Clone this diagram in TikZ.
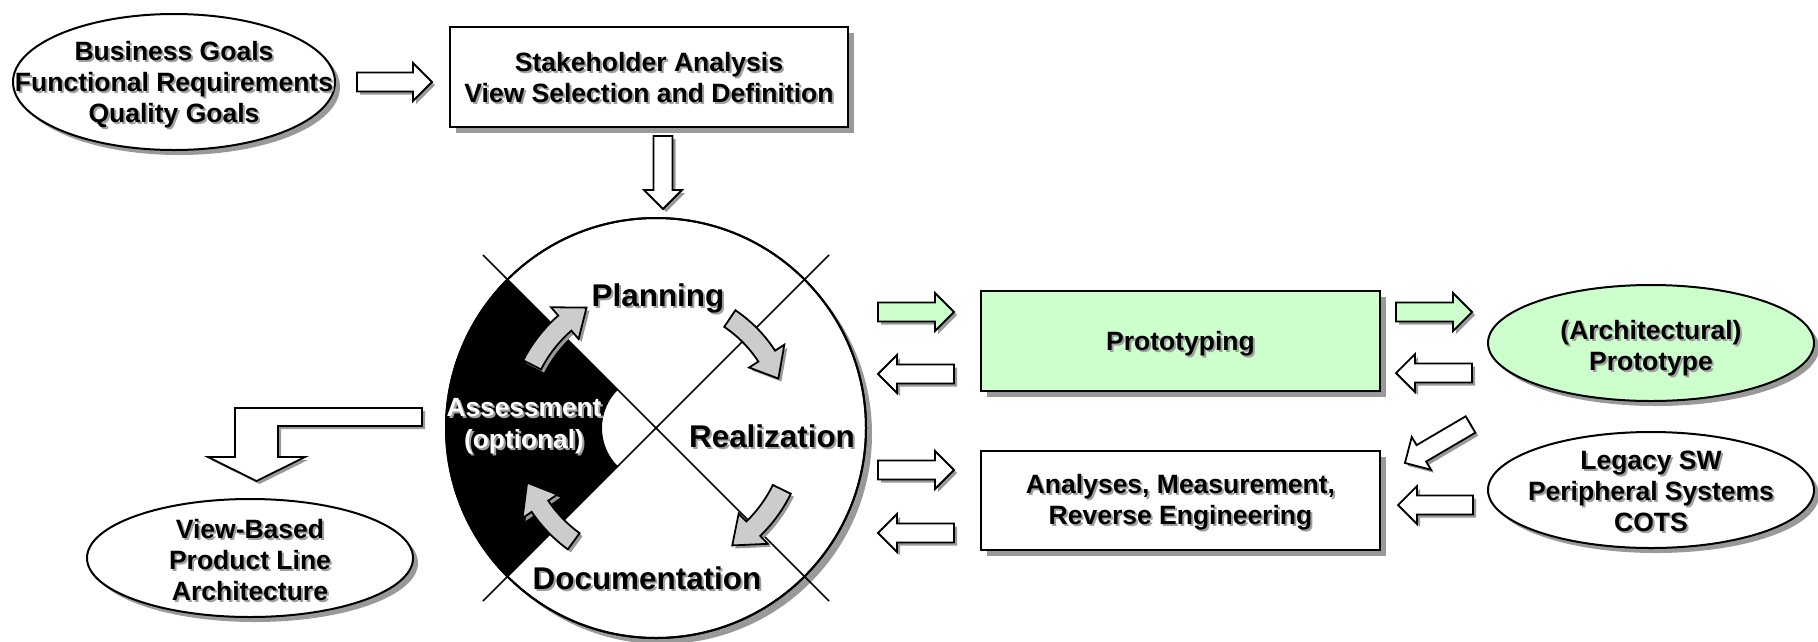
\documentclass[tikz,border=0pt]{standalone}
\usepackage{fontspec}
\setmainfont{Liberation Sans}
\usetikzlibrary{shapes.geometric,shadows}
\definecolor{shadowc}{RGB}{153,153,153}
\definecolor{txtsh}{RGB}{160,160,160}
\definecolor{pgreen}{RGB}{204,255,204}
\definecolor{agray}{RGB}{204,204,204}

\newcommand{\stext}[4]{%
  \node[#3, text=txtsh, xshift=2pt, yshift=-2pt] at (#2) {#4};
  \node[#3] (#1) at (#2) {#4};}

\newcommand{\barrow}[5]{%
  \pgfmathsetmacro{\myhb}{#5-19}%
  \begin{scope}[shift={(#2+3,#3-3)},rotate=#4]
    \fill[shadowc] (0,9.5) -- (\myhb,9.5) -- (\myhb,19) -- (#5,0) -- (\myhb,-19) -- (\myhb,-9.5) -- (0,-9.5) -- cycle;
  \end{scope}
  \begin{scope}[shift={(#2,#3)},rotate=#4]
    \draw[arrowline, fill=#1] (0,9.5) -- (\myhb,9.5) -- (\myhb,19) -- (#5,0) -- (\myhb,-19) -- (\myhb,-9.5) -- (0,-9.5) -- cycle;
  \end{scope}}

\newcommand{\carrow}[3]{%
  \pgfmathsetmacro{\cab}{#2+11}%
  \pgfmathsetmacro{\cro}{#3+10}%
  \pgfmathsetmacro{\cri}{#3-10}%
  \pgfmathsetmacro{\crho}{#3+21}%
  \pgfmathsetmacro{\crhi}{#3-21}%
  \begin{scope}[shift={(cyc.center)},xshift=3pt,yshift=-3pt]
    \fill[shadowc] (#1:\cro) arc[start angle=#1, end angle=\cab, radius=\cro] -- (\cab:\crho) -- (#2:#3) -- (\cab:\crhi) -- (\cab:\cri) arc[start angle=\cab, end angle=#1, radius=\cri] -- cycle;
  \end{scope}
  \begin{scope}[shift={(cyc.center)}]
    \draw[arrowline, fill=agray] (#1:\cro) arc[start angle=#1, end angle=\cab, radius=\cro] -- (\cab:\crho) -- (#2:#3) -- (\cab:\crhi) -- (\cab:\cri) arc[start angle=\cab, end angle=#1, radius=\cri] -- cycle;
  \end{scope}}

\begin{document}
\begin{tikzpicture}[x=1pt,y=1pt,
  lbl/.style={font=\bfseries\fontsize{26.5}{31}\selectfont, align=center, inner sep=0pt},
  biglbl/.style={font=\bfseries\fontsize{31.4}{36}\selectfont, inner sep=0pt},
  arrowline/.style={draw=black, line width=1.8pt, line join=miter},
  rbox/.style={rectangle, draw, line width=2pt, fill=white, inner sep=0pt,
    drop shadow={shadow xshift=6pt, shadow yshift=-6pt, fill=shadowc, opacity=1}},
  ell/.style={ellipse, draw, line width=2pt, fill=white, inner sep=0pt,
    drop shadow={shadow xshift=5pt, shadow yshift=-5pt, fill=shadowc, opacity=1}}]

\useasboundingbox (0,0) rectangle (1818,-641);
\fill[white] (0,0) rectangle (1818,-641);

% shapes
\node[ell, minimum width=322pt, minimum height=136pt] (goals) at (174,-82) {};
\node[rbox, minimum width=398pt, minimum height=100pt] (stake) at (649,-77) {};
\node[circle, draw, line width=2pt, fill=white, inner sep=0pt, minimum size=420pt,
  drop shadow={shadow xshift=6pt, shadow yshift=-6pt, fill=shadowc, opacity=1}] (cyc) at (656,-428) {};
\node[rbox, fill=pgreen, minimum width=399pt, minimum height=100pt] (proto) at (1180.5,-341) {};
\node[rbox, minimum width=399pt, minimum height=99pt] (anal) at (1180.5,-500.5) {};
\node[ell, fill=pgreen, minimum width=326pt, minimum height=116pt] (arch) at (1651,-343) {};
\node[ell, minimum width=326pt, minimum height=116pt] (legacy) at (1651,-490) {};
\node[ell, minimum width=326pt, minimum height=118pt] (vbpla) at (250,-558) {};

% assessment sector and cross
\begin{scope}[shift={(cyc.center)}]
  \fill[black] (135:54) -- (135:210) arc[start angle=135, end angle=225, radius=210]
    -- (225:54) arc[start angle=225, end angle=135, radius=54] -- cycle;
  \coordinate (d1) at (-173,173);
  \coordinate (d2) at (173,-173);
  \coordinate (d3) at (-173,-173);
  \coordinate (d4) at (173,173);
\end{scope}
\draw[line width=1.5pt] (d1) -- (d2);
\draw[line width=1.5pt] (d3) -- (d4);
\draw[line width=2pt] (cyc.center) circle (210);

% straight block arrows
\barrow{white}{357}{-82}{0}{75}
\barrow{white}{663}{-136}{-90}{73}
\barrow{pgreen}{878}{-312}{0}{76}
\barrow{white}{954}{-374}{180}{76}
\barrow{white}{878}{-470}{0}{76}
\barrow{white}{954}{-533}{180}{76}
\barrow{pgreen}{1396}{-312}{0}{76}
\barrow{white}{1472}{-373}{180}{76}
\barrow{white}{1470.5}{-424.5}{210.4}{76}
\barrow{white}{1473}{-505}{180}{75}

% bent arrow
\fill[shadowc, shift={(3,-3)}] (422,-408) -- (235,-408) -- (235,-457) -- (208,-457) -- (256.5,-481)
  -- (305,-457) -- (278,-457) -- (278,-426) -- (422,-426) -- cycle;
\draw[arrowline, fill=white] (422,-408) -- (235,-408) -- (235,-457) -- (208,-457) -- (256.5,-481)
  -- (305,-457) -- (278,-457) -- (278,-426) -- (422,-426) -- cycle;

% curved arrows
\carrow{153}{120}{139}
\carrow{56}{22}{132}
\carrow{-26}{-57}{140}
\carrow{-126}{-157}{140}

% texts
\stext{tgoals}{174,-84.3}{lbl}{Business Goals\\Functional Requirements\\Quality Goals}
\stext{tstake}{649,-78}{lbl}{Stakeholder Analysis\\View Selection and Definition}
\stext{tplan}{658,-306}{biglbl, anchor=base}{Planning}
\stext{treal}{772,-447}{biglbl, anchor=base}{Realization}
\stext{tdoc}{647,-589}{biglbl, anchor=base}{Documentation}
\stext{tassess}{524,-426.5}{lbl, font=\bfseries\fontsize{26.3}{32}\selectfont, text=white}{Assessment\\(optional)}
\stext{tproto}{1180.5,-350}{lbl, anchor=base}{Prototyping}
\stext{tanal}{1180.5,-501.8}{lbl}{Analyses, Measurement,\\Reverse Engineering}
\stext{tarch}{1651,-348.6}{lbl}{(Architectural)\\Prototype}
\stext{tlegacy}{1651,-491}{lbl}{Legacy SW\\Peripheral Systems\\COTS}
\stext{tvbpla}{250,-560}{lbl}{View-Based\\Product Line\\Architecture}
\end{tikzpicture}
\end{document}
